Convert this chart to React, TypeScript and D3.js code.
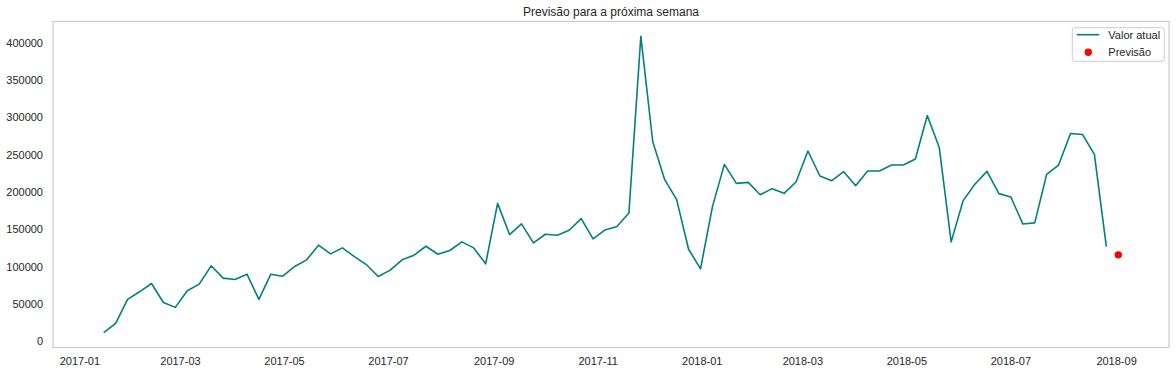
import React from "react";
import * as d3 from "d3";

const startDate = "2017-01-15";
const actualValues: number[] = [
  11600, 24000, 56150, 66400, 77500, 52100, 45500, 67800, 76600, 101200,
  84700, 82900, 90000, 56200, 90000, 87300, 100300, 109200, 128800, 117200,
  125200, 113600, 102900, 86900, 95400, 109200, 115400, 127400, 116700, 121700,
  133300, 125200, 103900, 184900, 143100, 157300, 131900, 143500, 142100, 148800,
  164500, 137300, 149300, 153800, 172000, 408700, 267400, 216600, 189900, 123400,
  97200, 180500, 237100, 211700, 213000, 196500, 204600, 198300, 213500, 255000,
  221500, 215300, 227300, 208600, 228200, 228200, 236200, 236200, 244300, 302600,
  259800, 133300, 188500, 210800, 227700, 197900, 193400, 157300, 158700, 223700,
  236200, 278500, 277200, 250400, 127000,
];
const predictionDate = "2018-09-02";
const predictionValue = 115900;
const yTicks = [0, 50000, 100000, 150000, 200000, 250000, 300000, 350000, 400000];
const title = "Previsão para a próxima semana";
const legendLabels = ["Valor atual", "Previsão"];

const W = 1176;
const H = 374;
const M = { left: 53, right: 1169, top: 21.5, bottom: 347.5 };
const FONT = "'Liberation Sans', Arial, 'DejaVu Sans', sans-serif";
const TEXT = "#262626";
const FRAME = "#cccccc";
const TEAL = "#008080";

export default function App() {
  const parse = d3.utcParse("%Y-%m-%d");
  const start = parse(startDate)!;
  const dates = actualValues.map((_, i) => d3.utcDay.offset(start, 7 * i));
  const pDate = parse(predictionDate)!;

  const t0 = +dates[0];
  const t1 = +pDate;
  const padT = (t1 - t0) * 0.05;
  const x = d3.scaleUtc().domain([new Date(t0 - padT), new Date(t1 + padT)]).range([M.left, M.right]);

  const allVals = [...actualValues, predictionValue];
  const vmin = d3.min(allVals)!;
  const vmax = d3.max(allVals)!;
  const padV = (vmax - vmin) * 0.05;
  const y = d3.scaleLinear().domain([vmin - padV, vmax + padV]).range([M.bottom, M.top]);

  const line = d3
    .line<number>()
    .x((_, i) => x(dates[i]))
    .y((d) => y(d));

  const xTicks = d3.utcMonth.every(2)!.range(parse("2017-01-01")!, parse("2018-10-01")!);
  const fmt = d3.utcFormat("%Y-%m");

  const lx = 1072.3;
  const ly = 27.7;

  return (
    <div style={{ position: "absolute", left: 0, top: 0 }}>
      <svg width={W} height={H} style={{ display: "block", background: "#fff" }} fontFamily={FONT}>
        <rect x={0} y={0} width={W} height={H} fill="#fff" />
        <text x={(M.left + M.right) / 2} y={15.5} textAnchor="middle" fontSize={12} fill={TEXT}>
          {title}
        </text>
        {yTicks.map((t) => (
          <text key={t} x={43} y={y(t)} dy="0.35em" textAnchor="end" fontSize={11} fill={TEXT}>
            {t}
          </text>
        ))}
        {xTicks.map((t) => (
          <text key={+t} x={x(t)} y={365} textAnchor="middle" fontSize={11} fill={TEXT}>
            {fmt(t)}
          </text>
        ))}
        <path d={line(actualValues) || ""} fill="none" stroke={TEAL} strokeWidth={1.6} strokeLinejoin="round" />
        <circle cx={x(pDate)} cy={y(predictionValue)} r={3.7} fill="red" />
        <rect
          x={M.left}
          y={M.top}
          width={M.right - M.left}
          height={M.bottom - M.top}
          fill="none"
          stroke={FRAME}
          strokeWidth={1.25}
        />
        <g>
          <rect x={lx} y={ly} width={92} height={33.6} rx={2.5} fill="#fff" fillOpacity={0.8} stroke={FRAME} strokeWidth={1} />
          <line x1={1076.7} x2={1099.3} y1={34.7} y2={34.7} stroke={TEAL} strokeWidth={1.6} />
          <text x={1108.3} y={38.6} fontSize={11} fill={TEXT}>
            {legendLabels[0]}
          </text>
          <circle cx={1088.3} cy={52.3} r={3.7} fill="red" />
          <text x={1108.3} y={55.5} fontSize={11} fill={TEXT}>
            {legendLabels[1]}
          </text>
        </g>
      </svg>
    </div>
  );
}
